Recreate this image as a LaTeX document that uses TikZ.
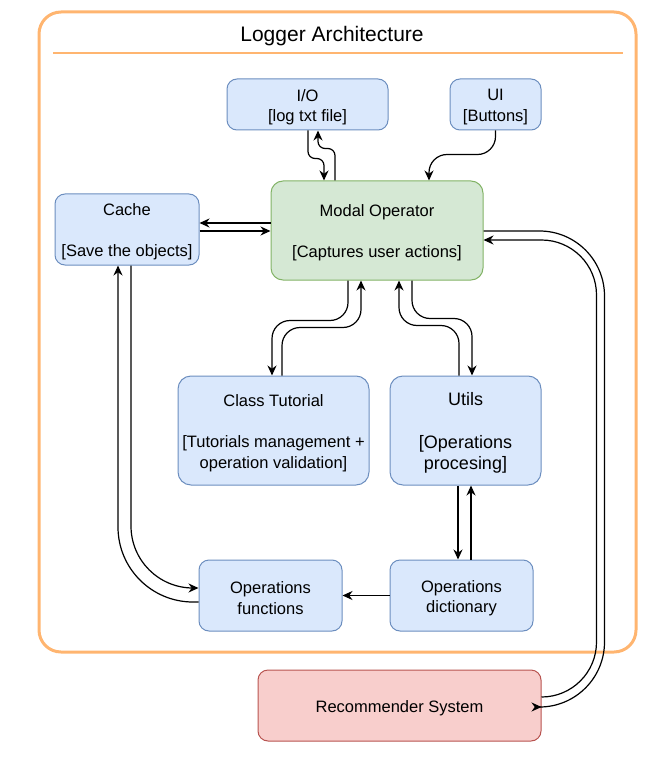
\documentclass[tikz,border=0pt]{standalone}
\usepackage{fontspec}
\setmainfont{Liberation Sans}
\usetikzlibrary{arrows.meta}
\definecolor{bluefill}{HTML}{DAE8FC}
\definecolor{bluedraw}{HTML}{6C8EBF}
\definecolor{greenfill}{HTML}{D5E8D4}
\definecolor{greendraw}{HTML}{82B366}
\definecolor{redfill}{HTML}{F8CECC}
\definecolor{reddraw}{HTML}{B85450}
\definecolor{orangedraw}{HTML}{FFB570}
\tikzset{
  box/.style={draw=bluedraw, fill=bluefill, rounded corners=10, line width=1, inner sep=0},
  greenbox/.style={box, draw=greendraw, fill=greenfill},
  redbox/.style={box, draw=reddraw, fill=redfill},
  txt/.style={label={[align=center, inner sep=0, yshift=-2.5, font=\fontsize{16.5}{20.5}\selectfont]center:{#1}}},
  bigtxt/.style={label={[align=center, inner sep=0, yshift=-2.5, font=\fontsize{18}{21.5}\selectfont]center:{#1}}},
  arr/.style={-{Stealth[length=10pt,width=9pt]}, line width=1.2, black},
  container/.style={draw=orangedraw, line width=3, rounded corners=22, inner sep=0}
}
\begin{document}
\begin{tikzpicture}[x=1pt,y=-1pt]
\useasboundingbox (0,0) rectangle (669,767);
% container
\node[container, minimum width=597, minimum height=640] (logger) at (337.5,332) {};
\node[font=\fontsize{21}{24}\selectfont] (title) at (332,36.5) {Logger Architecture};
\draw[orangedraw, line width=2.3] (53,53) coordinate (ul1) -- (623,53) coordinate (ul2);
% nodes
\node[box, minimum width=161, minimum height=51, txt={I/O\\{[}log txt file]}] (io) at (307.5,104.5) {};
\node[box, minimum width=91, minimum height=51, txt={UI\\{[}Buttons]}] (ui) at (495.5,104.5) {};
\node[greenbox, minimum width=212, minimum height=99, rounded corners=12, txt={Modal Operator\\[20.5pt]{[}Captures user actions]}] (modal) at (377,230.5) {};
\node[box, minimum width=144, minimum height=71, txt={Cache\\[20.5pt]{[}Save the objects]}] (cache) at (127,229.5) {};
\node[box, minimum width=191, minimum height=109, rounded corners=13, txt={Class Tutorial\\[20.5pt]{[}Tutorials management +\\operation validation]}] (tut) at (273.5,430.5) {};
\node[box, minimum width=151, minimum height=109, rounded corners=13, bigtxt={Utils\\[21.5pt]{[}Operations\\procesing]}] (utils) at (465.5,430.5) {};
\node[box, minimum width=143, minimum height=71, txt={Operations\\functions}] (opfunc) at (270.5,595.5) {};
\node[box, minimum width=143, minimum height=71, txt={Operations\\dictionary}] (opdict) at (461.5,595.5) {};
\node[redbox, minimum width=283, minimum height=71, txt={Recommender System}] (rec) at (399.5,705.5) {};
% I/O <-> Modal
\draw[arr, rounded corners=7] ([xshift=0.5]io.south) -- ++(0,28) -| ([xshift=-53]modal.north);
\draw[arr, rounded corners=7] ([xshift=-42]modal.north) -- ++(0,-32) -| ([xshift=10.5]io.south);
% UI -> Modal
\draw[arr, rounded corners=18] (ui.south) -- ++(0,24) -| ([xshift=52]modal.north);
% Cache <-> Modal
\draw[arr] ([yshift=7.5]modal.west) -- ([yshift=6.5]cache.east);
\draw[arr] ([yshift=-1.5]cache.east) -- ([yshift=-0.5]modal.west);
% Modal <-> Class Tutorial
\draw[arr, rounded corners=18] ([xshift=-29]modal.south) -- ++(0,40) -| ([xshift=-1.5]tut.north);
\draw[arr, rounded corners=18] ([xshift=8.5]tut.north) -- ++(0,-48) -| ([xshift=-16]modal.south);
% Modal <-> Utils
\draw[arr, rounded corners=18] ([xshift=35]modal.south) -- ++(0,38) -| ([xshift=6.5]utils.north);
\draw[arr, rounded corners=18] ([xshift=-6.5]utils.north) -- ++(0,-50) -| ([xshift=22]modal.south);
% Utils <-> Operations dictionary
\draw[arr] ([xshift=-7.5]utils.south) -- ([xshift=-3.5]opdict.north);
\draw[arr] ([xshift=9.5]opdict.north) -- ([xshift=5.5]utils.south);
% Operations dictionary -> Operations functions
\draw[arr] (opdict.west) -- (opfunc.east);
% Cache <-> Operations functions
\draw[arr, rounded corners=62] ([xshift=4]cache.south) |- ([yshift=7.5]opfunc.west);
\draw[arr, rounded corners=75] ([yshift=-6.5]opfunc.west) -| ([xshift=-9]cache.south);
% Modal <-> Recommender
\draw[arr, rounded corners=65] ([yshift=-0.5]modal.east) -- ++(121,0) |- ([yshift=-1.5]rec.east);
\draw[arr, rounded corners=55] ([yshift=8.5]rec.east) -- ++(55,0) |- ([yshift=-9.5]modal.east);
\end{tikzpicture}
\end{document}
